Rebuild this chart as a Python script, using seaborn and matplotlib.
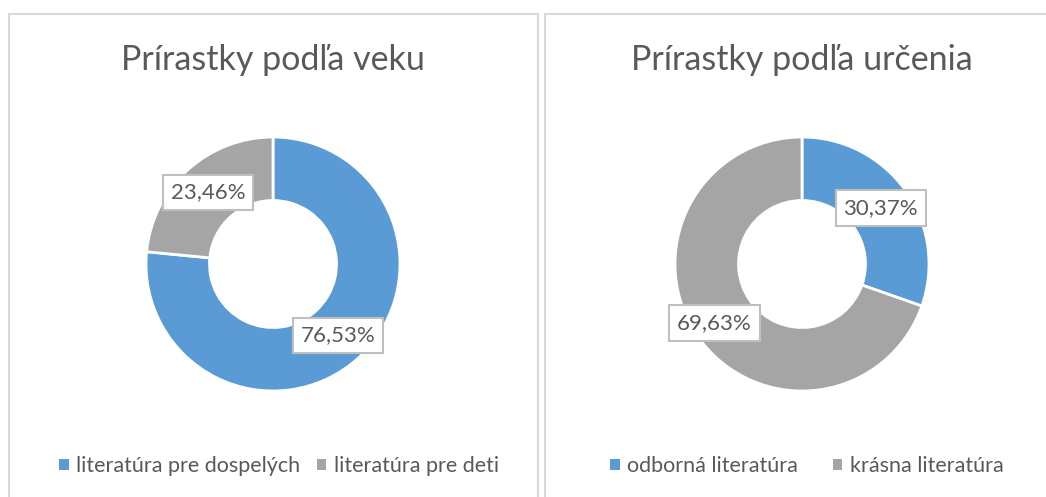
import matplotlib
matplotlib.use("Agg")
import matplotlib.pyplot as plt
import seaborn as sns
import numpy as np
from matplotlib.patches import Rectangle, Patch

# ---- data ----
left_title = "Prírastky podľa veku"
left_categories = ["literatúra pre dospelých", "literatúra pre deti"]
left_values = [76.53, 23.46]
left_labels = ["76,53%", "23,46%"]

right_title = "Prírastky podľa určenia"
right_categories = ["odborná literatúra", "krásna literatúra"]
right_values = [30.37, 69.63]
right_labels = ["30,37%", "69,63%"]

# ---- style ----
sns.set_theme(style="white")
FONT = ["Lato", "DejaVu Sans"]
plt.rcParams["font.family"] = FONT
TXT = "#595959"
palette = sns.color_palette(["#5B9BD5", "#A5A5A5"])

W, H = 1046, 497
fig = plt.figure(figsize=(W / 100, H / 100), dpi=100)
fig.patch.set_facecolor("white")

# panel borders
for x0, x1 in [(9, 538.5), (544.5, 1060)]:
    fig.patches.append(Rectangle((x0 / W, -0.05), (x1 - x0) / W, 1.05 - 14 / H,
                                 transform=fig.transFigure, fill=False,
                                 edgecolor="#D9D9D9", linewidth=1.5, zorder=0))

R = 127
panels = [
    dict(cx=273, cy=264, title=left_title, cats=left_categories, vals=left_values,
         labs=left_labels, lab_pos=[(None, 0.76), (None, 0.76)], legx=279, colsp=0.75),
    dict(cx=802, cy=264, title=right_title, cats=right_categories, vals=right_values,
         labs=right_labels, lab_pos=[(None, 0.76), (-146, 0.83)], legx=807, colsp=1.6),
]

for p in panels:
    ax = fig.add_axes([(p["cx"] - R) / W, (H - p["cy"] - R) / H, 2 * R / W, 2 * R / H])
    wedges, _ = ax.pie(p["vals"], colors=palette, startangle=90, counterclock=False,
                       radius=1.0, wedgeprops=dict(width=0.5, edgecolor="white", linewidth=2))
    ax.set_xlim(-1, 1)
    ax.set_ylim(-1, 1)
    ax.set_aspect("equal")
    ax.axis("off")
    for w, lab, (ang, rf) in zip(wedges, p["labs"], p["lab_pos"]):
        a = np.deg2rad(ang if ang is not None else (w.theta1 + w.theta2) / 2)
        ax.text(rf * np.cos(a), rf * np.sin(a), lab, ha="center", va="center",
                fontsize=16, color=TXT,
                bbox=dict(boxstyle="square,pad=0.35", facecolor="white",
                          edgecolor="#BFBFBF", linewidth=1.5))
    fig.text(p["cx"] / W, 1 - 60 / H, p["title"], ha="center", va="center",
             fontsize=24.5, color=TXT)
    handles = [Patch(facecolor=w.get_facecolor(), edgecolor="none") for w in wedges]
    fig.legend(handles, p["cats"], loc="center", bbox_to_anchor=(p["legx"] / W, 1 - 466 / H),
               ncol=2, frameon=False, fontsize=15.5, labelcolor=TXT,
               handlelength=0.45, handleheight=0.45, handletextpad=0.35,
               columnspacing=p["colsp"])

fig.savefig("out.png", dpi=100, facecolor="white")
